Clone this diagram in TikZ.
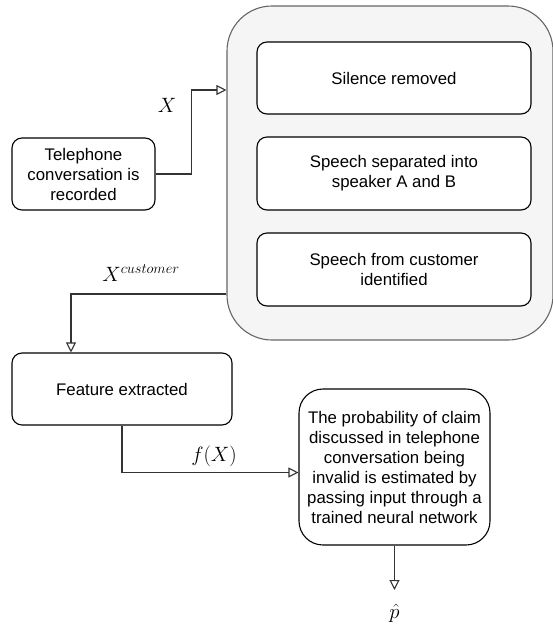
\documentclass[tikz,border=0pt]{standalone}
\usepackage{fontspec}
\setmainfont{Liberation Sans}
\usetikzlibrary{arrows.meta}
\definecolor{grpfill}{HTML}{F5F5F5}
\definecolor{grpline}{HTML}{666666}
\definecolor{conn}{HTML}{333333}
\begin{document}
\begin{tikzpicture}[x=1pt,y=1pt,
  box/.style={draw=black, line width=1.1pt, fill=white, rounded corners=10pt, align=center,
    font=\fontsize{16.8}{20}\selectfont, inner sep=0pt},
  arr/.style={draw=conn, line width=1.1pt, -{Triangle[open,length=10pt,width=10pt]}},
  lbl/.style={font=\fontsize{19.5}{22}\selectfont, inner sep=0pt}]
\useasboundingbox (0,0) rectangle (552,-635);
\node[draw=grpline, fill=grpfill, line width=1.1pt, rounded corners=45pt,
  minimum width=326pt, minimum height=334pt, inner sep=0pt] (grp) at (390,-173) {};
\node[box, minimum width=274pt, minimum height=72pt] (sil) at (394,-78) {Silence removed};
\node[box, minimum width=274pt, minimum height=73pt] (sep) at (394,-173.5) {Speech separated into\\speaker A and B};
\node[box, minimum width=274pt, minimum height=73pt] (cus) at (394,-269.5) {Speech from customer\\identified};
\node[box, minimum width=143pt, minimum height=72pt] (tel) at (83.5,-174) {Telephone\\conversation is\\recorded};
\node[box, minimum width=220pt, minimum height=72pt] (feat) at (122,-389) {Feature extracted};
\node[box, rounded corners=24pt, minimum width=191pt, minimum height=156pt] (prob) at (394.5,-467)
  {The probability of claim\\discussed in telephone\\conversation being\\invalid is estimated by\\passing input through a\\trained neural network};
\coordinate (pend) at (394.5,-590);
\node[lbl] (phat) at (394.5,-613) {$\hat{p}$};
\node[lbl] (lx) at (167,-105) {$X$};
\node[lbl] (lxc) at (141,-273) {$X^{customer}$};
\node[lbl] (lfx) at (214,-456) {$f(X)$};
\draw[arr] (tel.east) -- ++(36,0) |- ([yshift=83pt]grp.west);
\draw[arr] ([yshift=-121pt]grp.west) -| ([xshift=-51pt]feat.north);
\draw[arr] (feat.south) |- ([yshift=-5.5pt]prob.west);
\draw[arr] (prob.south) -- (pend);
\end{tikzpicture}
\end{document}
